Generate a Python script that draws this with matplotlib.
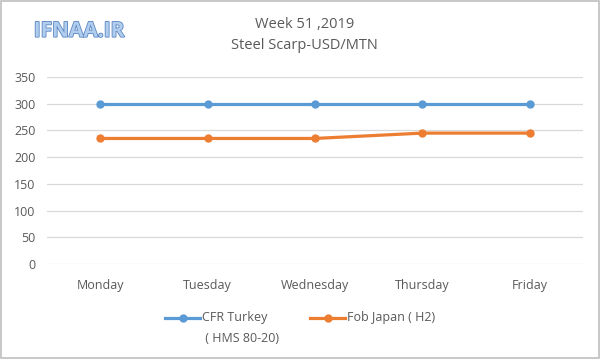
import matplotlib.pyplot as plt
import matplotlib.patheffects as pe
from matplotlib.lines import Line2D

# data
days = ["Monday", "Tuesday", "Wednesday", "Thursday", "Friday"]
cfr_turkey = [300, 300, 300, 300, 300]
fob_japan = [235, 235, 235, 245, 245]
yticks = [0, 50, 100, 150, 200, 250, 300, 350]

BLUE = "#5b9bd5"
ORANGE = "#ed7d31"
GREY = "#595959"

plt.rcParams["font.family"] = ["Open Sans", "DejaVu Sans"]

fig = plt.figure(figsize=(6, 3.59), dpi=100)
ax = fig.add_axes([0.078, 0.2646, 0.894, 0.5209])

x = range(len(days))
ax.plot(x, cfr_turkey, color=BLUE, lw=2.3, marker="o", ms=5)
ax.plot(x, fob_japan, color=ORANGE, lw=2.3, marker="o", ms=5)

ax.set_xlim(-0.5, len(days) - 0.5)
ax.set_ylim(0, 350)
ax.set_yticks(yticks)
ax.set_xticks(list(x))
ax.set_xticklabels(days)
ax.tick_params(length=0, labelsize=9, colors=GREY)
ax.tick_params(axis="x", pad=11)
ax.tick_params(axis="y", pad=8)
ax.grid(axis="y", color="#d9d9d9", lw=0.9)
ax.set_axisbelow(True)
for s in ax.spines.values():
    s.set_visible(False)

fig.text(0.508, 0.933, "Week 51 ,2019", ha="center", va="center",
         fontsize=10.5, color=GREY)
fig.text(0.508, 0.874, "Steel Scarp-USD/MTN", ha="center", va="center",
         fontsize=10.5, color=GREY)

t = fig.text(0.132, 0.913, "IFNAA.IR", ha="center", va="center",
             fontsize=15, color="#b0cdee", fontweight="bold")
t.set_path_effects([pe.withStroke(linewidth=1.2, foreground="#5a86c2")])

# legend drawn by hand so the handle sits on the first text line
def px(xp, yp):
    return xp / 600, 1 - yp / 359

for c, x0, x1, tx, lines in [(BLUE, 165, 200, 202, ["CFR Turkey", " ( HMS 80-20)"]),
                             (ORANGE, 310, 345, 347, ["Fob Japan ( H2)"])]:
    (a, yy), (b, _) = px(x0, 318), px(x1, 318)
    fig.add_artist(Line2D([a, b], [yy, yy], color=c, lw=2.3,
                          transform=fig.transFigure))
    fig.add_artist(Line2D([(a + b) / 2], [yy], color=c, marker="o", ms=5,
                          transform=fig.transFigure))
    for i, s in enumerate(lines):
        tx0, ty0 = px(tx, 318 + 21 * i)
        fig.text(tx0, ty0, s, ha="left", va="center", fontsize=9, color=GREY)

# outer border
fig.patches.append(plt.Rectangle((0.002, 0.003), 0.996, 0.994,
                                 transform=fig.transFigure, fill=False,
                                 edgecolor="#bfbfbf", lw=1.2))

fig.savefig("out.png", dpi=100)
